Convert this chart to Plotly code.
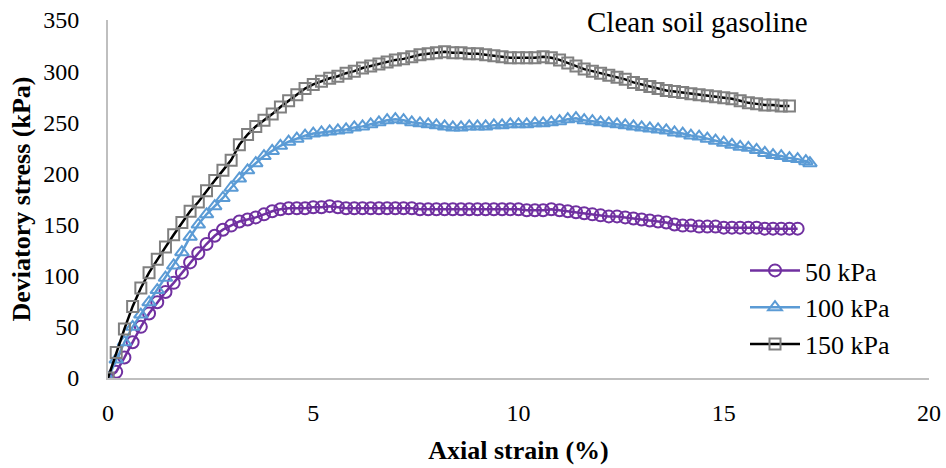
import plotly.graph_objects as go

strain_50 = [0.0, 0.2, 0.4, 0.6, 0.8, 1.0, 1.2, 1.4, 1.6, 1.8, 2.0, 2.2, 2.4, 2.6, 2.8, 3.0, 3.2, 3.4, 3.6, 3.8,
             4.0, 4.2, 4.4, 4.6, 4.8, 5.0, 5.2, 5.4, 5.6, 5.8, 6.0, 6.2, 6.4, 6.6, 6.8, 7.0, 7.2, 7.4, 7.6, 7.8,
             8.0, 8.2, 8.4, 8.6, 8.8, 9.0, 9.2, 9.4, 9.6, 9.8, 10.0, 10.2, 10.4, 10.6, 10.8, 11.0, 11.2, 11.4, 11.6, 11.8,
             12.0, 12.2, 12.4, 12.6, 12.8, 13.0, 13.2, 13.4, 13.6, 13.8, 14.0, 14.2, 14.4, 14.6, 14.8, 15.0, 15.2, 15.4, 15.6, 15.8,
             16.0, 16.2, 16.4, 16.6, 16.8]
stress_50 = [0, 6, 20, 35, 50, 63, 74, 84, 93, 103, 113, 122, 131, 139, 145, 149, 153, 155, 157, 160,
             163, 165, 166, 166, 166, 167, 167, 168, 167, 166, 166, 166, 166, 166, 166, 166, 166, 166, 165, 165,
             165, 165, 165, 165, 165, 165, 165, 165, 165, 165, 165, 164, 164, 164, 165, 164, 163, 162, 161, 160,
             159, 158, 158, 157, 156, 155, 154, 153, 152, 150, 149, 149, 148, 148, 148, 147, 147, 147, 147, 147,
             146, 146, 146, 146, 146]

strain_100 = [0.0, 0.2, 0.4, 0.6, 0.8, 1.0, 1.2, 1.4, 1.6, 1.8, 2.0, 2.2, 2.4, 2.6, 2.8, 3.0, 3.2, 3.4, 3.6, 3.8,
              4.0, 4.2, 4.4, 4.6, 4.8, 5.0, 5.2, 5.4, 5.6, 5.8, 6.0, 6.2, 6.4, 6.6, 6.8, 7.0, 7.2, 7.4, 7.6, 7.8,
              8.0, 8.2, 8.4, 8.6, 8.8, 9.0, 9.2, 9.4, 9.6, 9.8, 10.0, 10.2, 10.4, 10.6, 10.8, 11.0, 11.2, 11.4, 11.6, 11.8,
              12.0, 12.2, 12.4, 12.6, 12.8, 13.0, 13.2, 13.4, 13.6, 13.8, 14.0, 14.2, 14.4, 14.6, 14.8, 15.0, 15.2, 15.4, 15.6, 15.8,
              16.0, 16.2, 16.4, 16.6, 16.8, 17.0, 17.1]
stress_100 = [0, 18, 35, 50, 62, 74, 86, 98, 110, 123, 138, 150, 160, 168, 176, 186, 195, 203, 210, 217,
              222, 227, 231, 234, 237, 239, 240, 241, 242, 243, 245, 246, 248, 250, 252, 253, 252, 250, 249, 248,
              247, 246, 245, 245, 246, 246, 246, 247, 247, 248, 248, 248, 249, 249, 250, 251, 253, 254, 252, 251,
              250, 249, 248, 247, 246, 245, 244, 243, 242, 240, 239, 237, 236, 234, 232, 230, 228, 226, 225, 223,
              220, 218, 217, 215, 214, 212, 210]

strain_150 = [0.0, 0.2, 0.4, 0.6, 0.8, 1.0, 1.2, 1.4, 1.6, 1.8, 2.0, 2.2, 2.4, 2.6, 2.8, 3.0, 3.2, 3.4, 3.6, 3.8,
              4.0, 4.2, 4.4, 4.6, 4.8, 5.0, 5.2, 5.4, 5.6, 5.8, 6.0, 6.2, 6.4, 6.6, 6.8, 7.0, 7.2, 7.4, 7.6, 7.8,
              8.0, 8.2, 8.4, 8.6, 8.8, 9.0, 9.2, 9.4, 9.6, 9.8, 10.0, 10.2, 10.4, 10.6, 10.8, 11.0, 11.2, 11.4, 11.6, 11.8,
              12.0, 12.2, 12.4, 12.6, 12.8, 13.0, 13.2, 13.4, 13.6, 13.8, 14.0, 14.2, 14.4, 14.6, 14.8, 15.0, 15.2, 15.4, 15.6, 15.8,
              16.0, 16.2, 16.4, 16.6]
stress_150 = [0, 25, 48, 70, 88, 103, 116, 128, 140, 152, 163, 172, 183, 193, 203, 213, 228, 238, 246, 252,
              258, 265, 271, 277, 283, 287, 290, 293, 295, 298, 300, 303, 305, 307, 309, 311, 312, 314, 316, 317,
              318, 319, 318, 318, 317, 317, 316, 315, 314, 313, 313, 313, 313, 314, 313, 311, 308, 305, 302, 300,
              298, 296, 294, 292, 289, 287, 285, 283, 281, 280, 279, 278, 277, 276, 275, 274, 273, 271, 269, 268,
              267, 267, 266, 266]

series_names = ["50 kPa", "100 kPa", "150 kPa"]
x_ticks = [0, 5, 10, 15, 20]
y_ticks = [0, 50, 100, 150, 200, 250, 300, 350]

FONT = "Liberation Serif, Times New Roman, serif"

fig = go.Figure()
fig.add_trace(go.Scatter(
    x=strain_50, y=stress_50, name=series_names[0], mode="lines+markers", legendgroup="a",
    line=dict(color="#7030A0", width=2.5),
    marker=dict(symbol="circle-open", size=12, color="#7030A0", line=dict(width=2, color="#7030A0")),
))
fig.add_trace(go.Scatter(
    x=strain_100, y=stress_100, name=series_names[1], mode="lines+markers", legendgroup="b",
    line=dict(color="#5B9BD5", width=2.5),
    marker=dict(symbol="triangle-up-open", size=12, color="#5B9BD5", line=dict(width=2, color="#5B9BD5")),
))
fig.add_trace(go.Scatter(
    x=strain_150, y=stress_150, name=series_names[2], mode="lines+markers", legendgroup="c",
    line=dict(color="#000000", width=2.5),
    marker=dict(symbol="square-open", size=11, color="#808080", line=dict(width=2, color="#808080")),
))

fig.add_annotation(
    x=(810 - 108) / 821, y=(378 - 22) / 358, xref="paper", yref="paper",
    xanchor="right", yanchor="middle", showarrow=False,
    text="Clean soil gasoline",
    font=dict(family=FONT, size=29, color="#000000"),
)

fig.update_layout(
    width=946, height=468,
    margin=dict(l=108, r=17, t=20, b=90, autoexpand=False),
    paper_bgcolor="white", plot_bgcolor="white",
    font=dict(family=FONT, size=24, color="#000000"),
    showlegend=True,
    legend=dict(
        x=(745 - 108) / 821, y=(378 - 247) / 358, xanchor="left", yanchor="top",
        font=dict(family=FONT, size=26, color="#000000"),
        bgcolor="rgba(0,0,0,0)", tracegroupgap=0, itemwidth=50,
    ),
)

fig.update_xaxes(
    range=[0, 20], tickvals=x_ticks, ticktext=[str(v) for v in x_ticks], automargin=False,
    showgrid=False, zeroline=False, showline=True, linecolor="#BFBFBF", linewidth=2,
    ticks="outside", ticklen=12, tickcolor="rgba(0,0,0,0)", ticklabeloverflow="allow",
    tickfont=dict(family=FONT, size=24),
    title=dict(text="<b>Axial strain (%)</b>", font=dict(family=FONT, size=26), standoff=16),
)
fig.update_yaxes(
    range=[0, 350], tickvals=y_ticks, ticktext=[str(v) for v in y_ticks], automargin=False,
    showgrid=False, zeroline=False, showline=True, linecolor="#BFBFBF", linewidth=2,
    ticks="outside", ticklen=22, tickcolor="rgba(0,0,0,0)", ticklabeloverflow="allow",
    tickfont=dict(family=FONT, size=24),
    title=dict(text="<b>Deviatory stress (kPa)</b>", font=dict(family=FONT, size=26), standoff=5),
)

fig.write_html("out.html", config={"displayModeBar": False},
               post_script="document.body.style.margin='0';")
